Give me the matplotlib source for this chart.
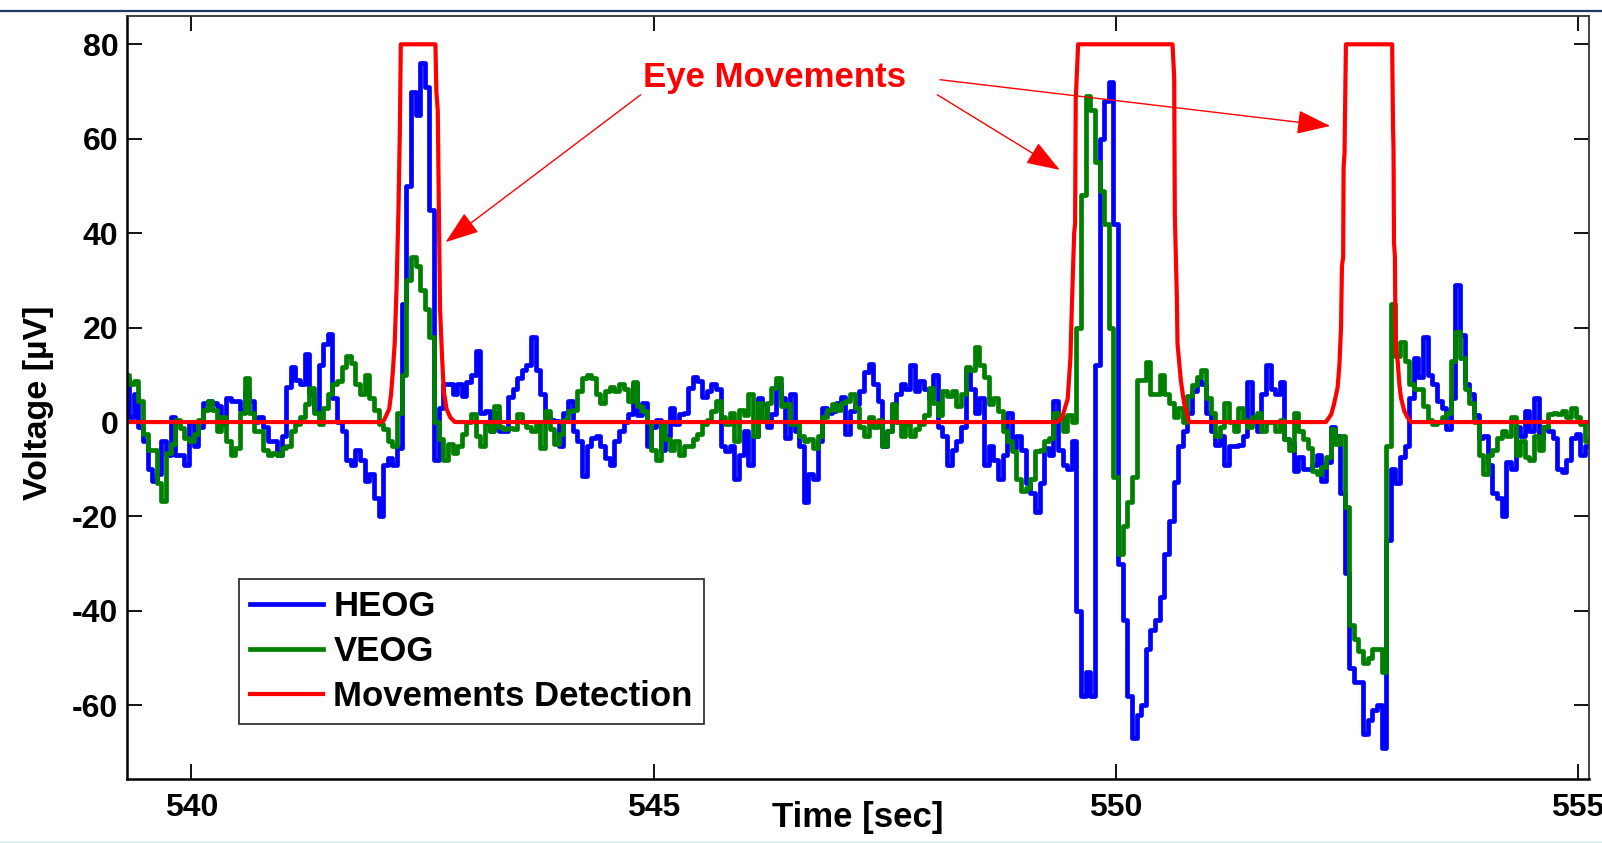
import numpy as np
import matplotlib
matplotlib.use('Agg')
import matplotlib.pyplot as plt

plt.rcParams['font.family'] = ['Liberation Sans', 'DejaVu Sans']
plt.rcParams['font.weight'] = 'bold'
plt.rcParams['axes.unicode_minus'] = False

# sampled EOG traces, one value every 0.05 s starting at t0
t0 = 539.30
dt = 0.05

heog = [
    9.4, 1, 6, -1, -4, -10, -12.5, -11, -4, -7, 1, -7, -7, -9, 0, -5, -1, 4, 4.5, 4,
    3.5, -0.5, 5, 4.5, 4.5, 2.5, 6.6, 4.5, 0, 1, -1, -4, -4, -7, -3, 7.5, 11.6, 9, 8, 14.4,
    6, 2.5, 12, 16.5, 18.6, 5, 0, -2, -8, -9, -6, -8, -12.5, -11, -16, -20,
    -9, -7.6, -9, -5.5, 25, 50, 70, 65, 76, 71, 45, -8, 3, 8, 8, 6, 8, 5.5, 8.5, 10,
    15, 2, 2.3, -2, 2, -2, -2, 5.2, 7, 9.4, 11, 12, 18, 11, 6, 1, 0.5, 0.2, -5, 2,
    4.5, -2, -4, -11.5, -5, -3.3, -3, -5, -7.6, -9, -4, -2, 0, 1.6,
    8, 1.5, 4, -5, -1, 0.5, -6, -3, 3, -0.5, 1.6, 2, 7.3, 9.5, 8.7, 5.2, 6.6, 8, 7, -5,
    -6.2, -5, -12, -7, -2, -9, -3, 5, 3.8, -1, 1.6, 8, 5, -3.3, 6, -2, -5, -17, -11, -12,
    -4, 3, 2, 2.3, 4, 5.2, -2.6, 2.3, 3.8, 6.5, 10.5, 12.3, 8, 4.5,
    -5, -2, 3.8, 6, 8, 7, 12, 6.6, 8.7, 7, 5, 10, -1, -3, -9, -6, -4, -1, 11, 7,
    2, 5, -9, -5, -8, -12, -7, 2, -5.5, -3, -6, -13, -15, -19, -13, -5.5, -7, 4.5, -6, -9,
    -10, -4,
    -40, -58, -53, -58, 12, 60, 68, 72, 42, -30, -42, -58, -67, -62, -60, -48, -44, -42, -37, -28,
    -21, -12.7, -5, -2, 2, 6.5, 9, 8, 2, -2, -4.9, -3, -9, -5, -5, -4.9,
    -3, 8.5, 1, -2, 6, 12, 7, 6,
    8.5, -3.5, -4.5, -10.4, -7.5, -10, -10, -9, -7, -12.5, -8.5, -1, -3, -15, -32, -52, -55, -55, -66, -63,
    -61, -60, -69, -25, -10, -13, -7.5, -5, 5, 13.5, 9.5, 18, 10, 8, 4.5, 3, -1.5, 5, 29, 18.5,
    8, 6, 1.5, -3.3, -3, -9, -15, -16, -20, -8.5, -10, -1, -3, 2.3, -2, 5, -3.5, -1, -2, -3.3,
    -10, -10.5, -8, -3.3, -2.5, -7, -5,
]

veog = [
    10, 8, 8.7, 4.5, -2.6, -6, -6, -13, -16.8, -6.5, -4.7, 0.5, -1.2, -3.3, -4, -2.6, 0.5, 2.5, 4.5, 2.5,
    -2, 1, -4, -7, -5.5, 2, 9.4, 2, -2, -2, -6, -7, -6.5, -7, -5.5, -5, -2, -0.5, 1, 3.8,
    7.3, 2, -0.5, 3, 5.9, 8, 8.7, 11.6, 14, 12.5, 8, 6, 10, 5, 2.5, -0.5,
    -1.5, -4, -5, 2, 10, 30, 35, 33, 28, 24, 18, 0, -3.5, -8, -4.7, -6.5, -5, -2.5, 0, 1.6,
    -3, -5, -0.5, -2, 3.5, -1, -1.5, -1.2, -1.5, 1.6, 0, -1, -2, -0.5, -5.5, 2.3, -1.5, -4.7, -2.5, 0.5,
    2.3, 2.5, 6.6, 9.4, 10, 9.4, 6, 4, 6.6, 7.5, 6.6, 8, 7, 4.5,
    8.5, 3.5, 2.3, 0, -6, -8, 0, -3.5, -6, -4, -7, -5, -5, -3.5, -2.6, -0.5, 0.5, 2.3, 4.5, 1,
    -0.5, 2, -4, 2.5, 1.5, 5.9, -3, 4, 0.5, 4, 7.3, 9.4, 3.5, 3.8, -0.5, 0, -3, -4, -3.5, -5.5,
    -3, 1, 2.5, 3.8, 2.5, 4, 4.5, 5.9, 3, -1, -3, 1, -1, 0.5,
    -5, -2, 3.8, 0, -3, -0.5, -3, -1.5, -0.5, 1.5, 7.3, 4, 1.5, 6.6, 5.5, 6.6, 3.5, 6, 11.6, 11,
    15.8, 12, 9.5, 3.8, 5, 2.3, -2, -4, -6.2, -12, -14.5, -14, -12, -6.2, -6, -4, -3.3, 2, 1, -2,
    1.5, 0,
    20, 48, 69, 66, 55, 49, 42, 20, -11.7, -28, -22, -17, -11.7, 8.8, 9, 12.7, 6, 6, 10, 6,
    4, 1, 3, 0, 5.5, 7.8, 9.5, 11, 5, 2, -3, -1, 4, 0, -2, 3,
    0.5, -1, 1, 2, -2, 0, 0, -2,
    0.5, -3.5, -6, 2, -1.8, -3.5, -5.5, -10.4, -11, -9.5, -7.5, -1.5, -4.7, -3, -18, -43, -46, -48.4, -51, -50,
    -48, -48, -53, -5, 25, 14, 17, 13, 8, 7, 7, 3.5, 0.5, -0.5, 0, 1, 2, 13, 19, 13.5,
    7, 4, 0, -6.9, -11, -7, -6, -3.3, -2, -3, 1, -7, -4, -7.5, -8, -3, -6, -1, 1.6, 2,
    1.6, 2.3, 1, 3, 1, -0.5, -4,
]

# movement detection output (breakpoints)
det_t = [539.30, 542.05, 542.08, 542.11, 542.14, 542.16, 542.18, 542.20, 542.22, 542.24,
         542.255, 542.265, 542.64, 542.65, 542.665, 542.68, 542.69, 542.71, 542.73, 542.76,
         542.80, 542.85,
         549.37, 549.42, 549.48, 549.51, 549.525, 549.55, 549.56, 549.567, 549.593, 550.614,
         550.632, 550.639, 550.661, 550.668, 550.704, 550.74, 550.794,
         552.274, 552.33, 552.36, 552.40, 552.42, 552.437, 552.447, 552.46, 552.465, 552.475,
         552.49, 552.99, 553.0, 553.005, 553.01, 553.02, 553.025, 553.032, 553.05, 553.068,
         553.086, 553.122, 553.158, 553.195, 555.12]
det_v = [0, 0, 0.3, 1.5, 2.8, 5.9, 11, 17, 29, 45,
         62, 80, 80, 70, 66, 40, 24, 14.4, 6.6, 2.8,
         1, 0,
         0, 1, 4.9, 13.7, 24.4, 40, 42, 68.3, 80, 80,
         73, 44, 26.3, 16.6, 8.8, 3.9, 0,
         0, 1.6, 3.7, 7.3, 12.2, 20, 33, 35, 54, 57,
         80, 80, 62, 58, 38, 35, 22, 15, 12.9, 8,
         5.1, 2.3, 0.9, 0, 0]

# "Eye Movements" callout: text anchor, arrow tails and tips (data coords)
note_xy = (546.31, 72.9)
arrow_tails = [(544.86, 69.3), (548.07, 69.3), (548.10, 72.5)]
arrow_tips = [(542.75, 38.1), (549.394, 53.4), (552.32, 62.7)]

x_ticks = [540, 545, 550, 555]
y_ticks = [-60, -40, -20, 0, 20, 40, 60, 80]

time = t0 + dt * np.arange(len(heog))

fig = plt.figure(figsize=(16.02, 8.43), dpi=100)
ax = fig.add_axes([0.0791, 0.0759, 0.9128, 0.9055])

ax.plot(time, heog, color='#0000ff', lw=3.4, drawstyle='steps-mid', label='HEOG')
ax.plot(time, veog, color='#008000', lw=3.4, drawstyle='steps-mid', label='VEOG')
ax.plot(det_t, det_v, color='#ff0000', lw=3.0, label='Movements Detection')

ax.text(note_xy[0], note_xy[1], 'Eye Movements', color='#ff0000', fontsize=25,
        fontweight='bold', ha='center', va='center')
for tail, tip in zip(arrow_tails, arrow_tips):
    ax.annotate('', xy=tip, xytext=tail,
                arrowprops=dict(arrowstyle='-|>,head_length=1.4,head_width=0.5',
                                mutation_scale=15, color='#ff0000', lw=1.0,
                                shrinkA=0, shrinkB=0))

ax.set_xlim(539.30, 555.12)
ax.set_ylim(-75.6, 86.06)
ax.set_xticks(x_ticks)
ax.set_yticks(y_ticks)
ax.tick_params(direction='in', top=True, right=True, length=11, width=1.3,
               labelsize=23)
ax.tick_params(axis='x', pad=10)
ax.tick_params(axis='y', pad=6)
for lab in ax.get_xticklabels() + ax.get_yticklabels():
    lab.set_fontweight('bold')
for side in ['left', 'bottom']:
    ax.spines[side].set_linewidth(1.8)
for side in ['top', 'right']:
    ax.spines[side].set_linewidth(1.3)
    ax.spines[side].set_color('#333333')

ax.set_xlabel('Time [sec]', fontsize=25, fontweight='bold')
ax.xaxis.set_label_coords(0.5, -0.029)
ax.set_ylabel('Voltage [µV]', fontsize=24.5, fontweight='bold', va='center')
ax.yaxis.set_label_coords(-0.060, 0.493)

leg = ax.legend(loc='lower left', bbox_to_anchor=(0.0768, 0.072), borderaxespad=0,
                fontsize=25, frameon=True, fancybox=False, edgecolor='black',
                handlelength=2.1, handletextpad=0.3, borderpad=0.32,
                labelspacing=0.34)
leg.get_frame().set_linewidth(1.3)
for txt in leg.get_texts():
    txt.set_fontweight('bold')

# slide border lines
fig.add_artist(plt.Line2D([0, 1], [1 - 11.2 / 843, 1 - 11.2 / 843],
                          transform=fig.transFigure, color='#1f3864', lw=1.6))
fig.add_artist(plt.Line2D([0, 1], [1.2 / 843, 1.2 / 843],
                          transform=fig.transFigure, color='#dff0f0', lw=2))

fig.savefig('out.png', dpi=100, facecolor='white')
